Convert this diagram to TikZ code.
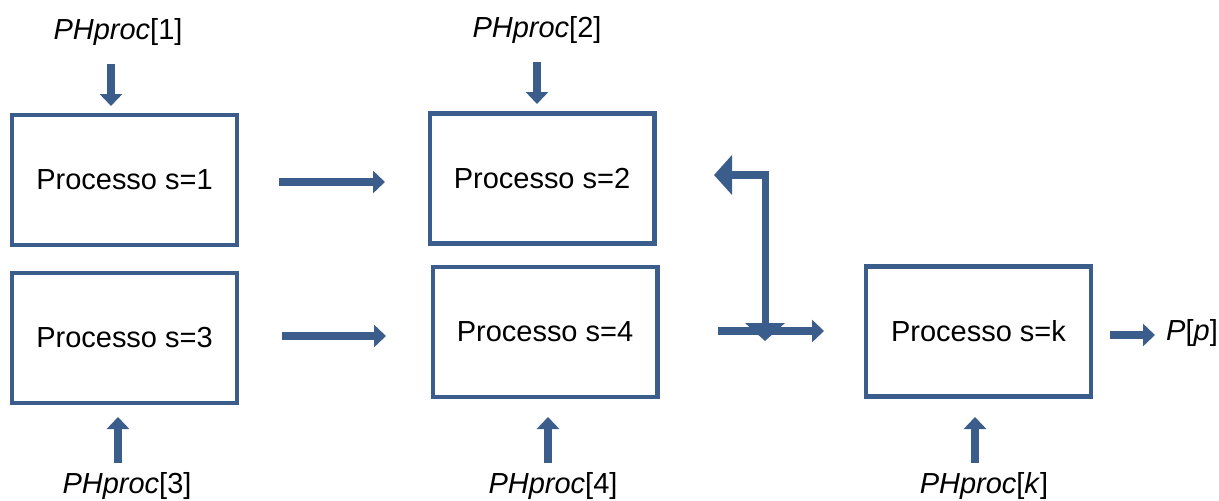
\documentclass[tikz,border=0pt]{standalone}
\usepackage{fontspec}
\setmainfont{Liberation Sans}
\usetikzlibrary{arrows.meta, positioning}
\definecolor{boxblue}{RGB}{59,93,140}
\tikzstyle{process} = [rectangle, draw=boxblue, line width=2.3pt, fill=white, minimum width=4.5cm, minimum height=2.6cm, text centered, font=\fontsize{16.5}{19}\selectfont]
\tikzstyle{phtext} = [inner sep=0pt, font=\fontsize{16.5}{19}\selectfont]
\tikzstyle{arrow} = [line width=5pt, draw=boxblue, -{Triangle[width=0.44cm, length=0.24cm]}]
\tikzstyle{bigarrow} = [line width=4pt, draw=boxblue, {Triangle[width=0.78cm, length=0.36cm]}-{Triangle[width=0.78cm, length=0.36cm]}]

\begin{document}
\begin{tikzpicture}[x=0.02cm, y=-0.02cm]
\useasboundingbox (0,0) rectangle (1219,500);
% Boxes
\node (s1) [process] at (124.5,180) {Processo s=1};
\node (s2) [process] at (542,178.5) {Processo s=2};
\node (s3) [process] at (124.5,338) {Processo s=3};
\node (s4) [process] at (545,332) {Processo s=4};
\node (sk) [process] at (978.5,331.5) {Processo s=k};
% Inputs and output
\node (ph1) [phtext] at (118,32) {\textit{PHproc}[1]};
\node (ph2) [phtext] at (537,30) {\textit{PHproc}[2]};
\node (ph3) [phtext] at (127,486) {\textit{PHproc}[3]};
\node (ph4) [phtext] at (553,486) {\textit{PHproc}[4]};
\node (phk) [phtext] at (984,486) {\textit{PHproc}[\textit{k}]};
\node (out) [phtext] at (1192,333) {\textit{P}[\textit{p}]};

% Arrow ends
\coordinate (d1a) at (111,64);   \coordinate (d1b) at (111,106);
\coordinate (d2a) at (537,62);   \coordinate (d2b) at (537,104);
\coordinate (u3a) at (118,463);  \coordinate (u3b) at (118,417);
\coordinate (u4a) at (548,463);  \coordinate (u4b) at (548,417);
\coordinate (uka) at (975,463);  \coordinate (ukb) at (975,417);
\coordinate (r1a) at (279,182);  \coordinate (r1b) at (385,182);
\coordinate (r2a) at (282,336);  \coordinate (r2b) at (386,336);
\coordinate (r3a) at (718,331);  \coordinate (r3b) at (824,331);
\coordinate (rpa) at (1110,335); \coordinate (rpb) at (1155,335);
\coordinate (fbl) at (714,175);  \coordinate (fbd) at (765,341);

% Arrows
\draw [arrow] (d1a) -- (d1b);
\draw [arrow] (d2a) -- (d2b);
\draw [arrow] (u3a) -- (u3b);
\draw [arrow] (u4a) -- (u4b);
\draw [arrow] (uka) -- (ukb);
\draw [arrow] (r1a) -- (r1b);
\draw [arrow] (r2a) -- (r2b);
\draw [arrow] (r3a) -- (r3b);
\draw [arrow] (rpa) -- (rpb);
\draw [bigarrow] (fbl) -| (fbd);
\end{tikzpicture}
\end{document}
